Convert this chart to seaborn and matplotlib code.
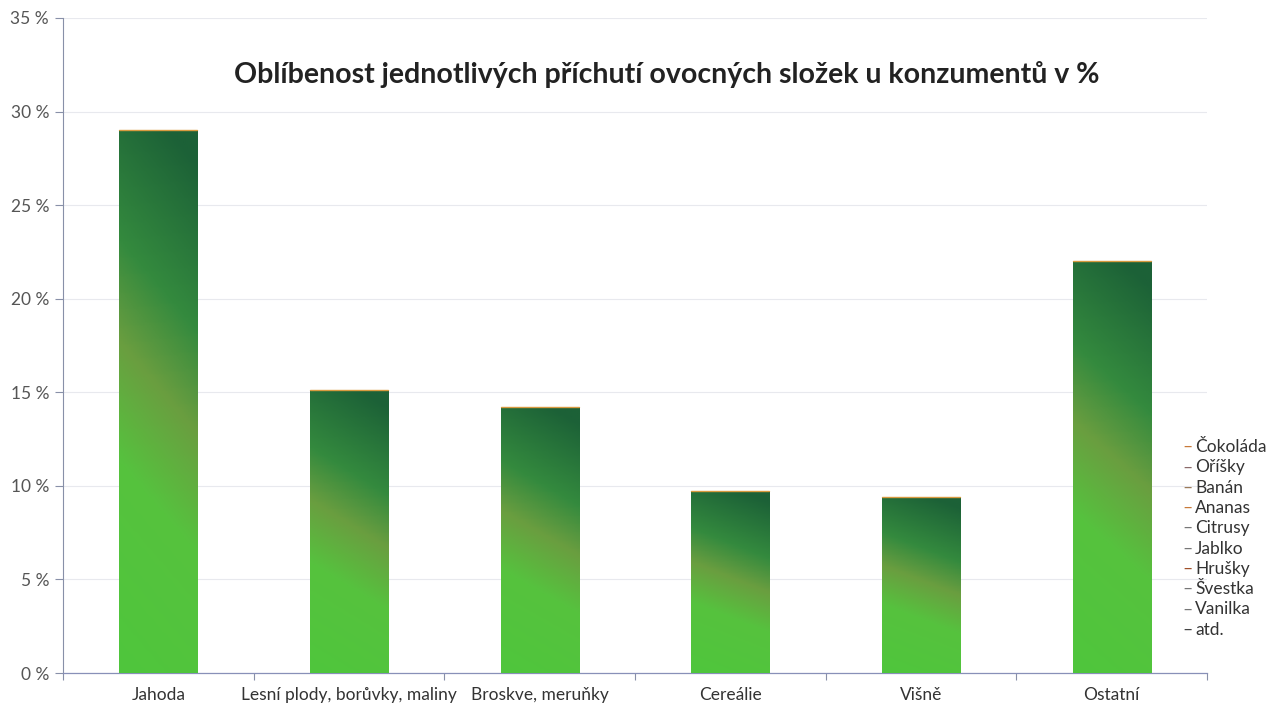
import numpy as np
import pandas as pd
import matplotlib
matplotlib.use("Agg")
import matplotlib.pyplot as plt
import seaborn as sns
from matplotlib.colors import LinearSegmentedColormap

categories = ["Jahoda", "Lesní plody, borůvky, maliny", "Broskve, meruňky",
              "Cereálie", "Višně", "Ostatní"]
values = [29.0, 15.1, 14.2, 9.7, 9.4, 22.0]
y_ticks = [0, 5, 10, 15, 20, 25, 30, 35]
y_tick_labels = ["0 %", "5 %", "10 %", "15 %", "20 %", "25 %", "30 %", "35 %"]
title = "Oblíbenost jednotlivých příchutí ovocných složek u konzumentů v %"
other_items = ["Čokoláda", "Oříšky", "Banán", "Ananas", "Citrusy",
               "Jablko", "Hrušky", "Švestka", "Vanilka", "atd."]

sns.set_theme(style="white")
plt.rcParams['font.family'] = ['Lato', 'DejaVu Sans']

df = pd.DataFrame({"cat": categories, "val": values})

fig = plt.figure(figsize=(12.79, 7.04), dpi=100)
ax = fig.add_axes([63/1279, 1-673/704, (1207-63)/1279, (673-18)/704])

sns.barplot(data=df, x="cat", y="val", ax=ax, width=0.41, color="#4cc43a",
            edgecolor="none", linewidth=0, zorder=2)

ax.set_ylim(0, 35)
ax.set_xlim(-0.5, len(categories) - 0.5)

cmap = LinearSegmentedColormap.from_list(
    "g", [(0.0, "#4fc63c"), (0.35, "#56c23e"), (0.55, "#6a9e40"),
          (0.72, "#348a3e"), (1.0, "#1c6137")])

grad_y = np.linspace(0, 1, 200)[:, None]
grad_x = np.linspace(0, 1, 40)[None, :]
grad = np.clip(grad_y * 0.9 + grad_x * 0.15, 0, 1)

for patch in ax.patches:
    x0 = patch.get_x()
    w = patch.get_width()
    h = patch.get_height()
    im = ax.imshow(grad, cmap=cmap, origin="lower", aspect="auto",
                   extent=[x0, x0 + w, 0, h], zorder=3, vmin=0, vmax=1)
    im.set_clip_path(patch)
    ax.plot([x0, x0 + w], [h, h], color="#d89a40", lw=1.0, zorder=4)

ax.set_yticks(y_ticks)
ax.set_yticklabels(y_tick_labels)
ax.set_xticks(range(len(categories)))
ax.set_xticklabels(categories)
ax.set_xticks(np.arange(-0.5, len(categories)), minor=True)
ax.tick_params(axis="x", which="major", length=0, pad=10, labelsize=12.5,
               labelcolor="#333333")
ax.tick_params(axis="x", which="minor", length=5, width=0.8, color="#8890a8",
               direction="out", bottom=True)
ax.tick_params(axis="y", length=6, width=0.8, color="#8890a8", direction="out",
               left=True, pad=4, labelsize=12.5, labelcolor="#555555")
ax.set_xlabel("")
ax.set_ylabel("")

ax.grid(axis="y", color="#e8e9ee", lw=0.8, zorder=0)
ax.set_axisbelow(True)
for s in ["top", "right"]:
    ax.spines[s].set_visible(False)
ax.spines["left"].set_color("#8890a8")
ax.spines["left"].set_linewidth(0.8)
ax.spines["bottom"].set_color("#8890b8")
ax.spines["bottom"].set_linewidth(0.9)

fig.text(667/1279, 1-75/704, title, ha="center", va="center",
         fontsize=20.5, fontweight="bold", color="#222222")

dash_colors = ["#c87a3a", "#8a6a6a", "#9a7a5a", "#c87a3a", "#777777",
               "#777777", "#a0502a", "#777777", "#777777", "#444444"]
for i, (item, dc) in enumerate(zip(other_items, dash_colors)):
    y = 1 - (447 + i * 20.3) / 704
    fig.text(1182/1279, y, "–", ha="left", va="center", fontsize=12.5, color=dc)
    fig.text(1195/1279, y, item, ha="left", va="center", fontsize=12.5,
             color="#333333")

fig.savefig("out.png", dpi=100)
